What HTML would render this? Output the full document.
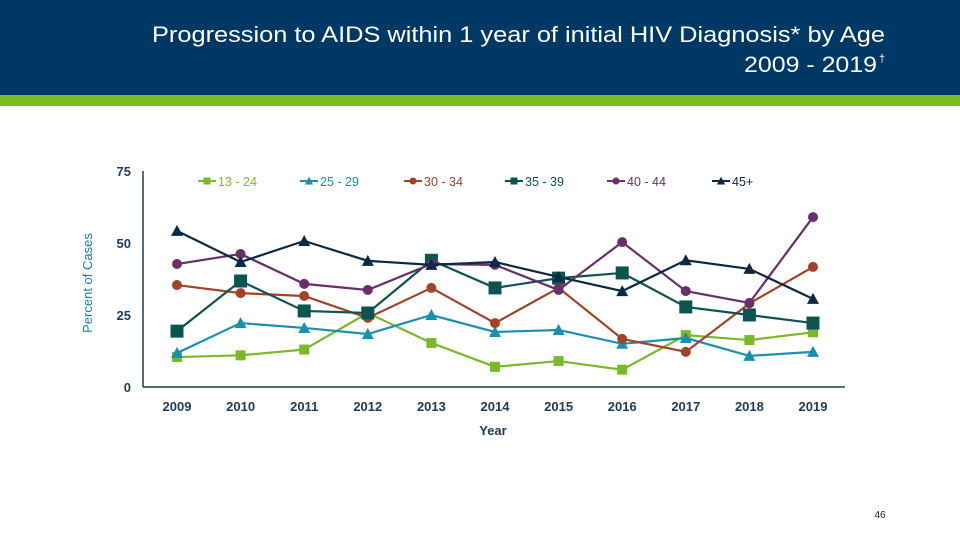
<!DOCTYPE html>
<html><head><meta charset="utf-8"><style>
body{margin:0;width:960px;height:540px;overflow:hidden;background:#fff;font-family:"Liberation Sans",sans-serif}
</style></head><body>
<svg id="s" width="960" height="540" xmlns="http://www.w3.org/2000/svg">
<rect x="0" y="0" width="960" height="95" fill="#003865"/>
<rect x="0" y="95" width="960" height="11" fill="#78be21"/>
<text x="885" y="42" text-anchor="end" font-size="22" fill="#fff" textLength="733" lengthAdjust="spacingAndGlyphs">Progression to AIDS within 1 year of initial HIV Diagnosis* by Age</text>
<text x="877" y="72" text-anchor="end" font-size="22" fill="#fff" textLength="133" lengthAdjust="spacingAndGlyphs">2009 - 2019</text>
<text x="879" y="62" font-size="11" fill="#fff">†</text>
<text x="880" y="518" text-anchor="middle" font-size="10" fill="#222">46</text>
<g id="chart"></g>
</svg>
<script>
const years=[2009,2010,2011,2012,2013,2014,2015,2016,2017,2018,2019];
const s1324=[10.4,11,13,25.7,15.3,7,9,6,18,16.3,19];
const s2529=[11.8,22.2,20.5,18.4,25,19.1,19.8,15,17,10.8,12.2];
const s3034=[35.4,32.6,31.6,24,34.4,22.2,34.4,16.7,12.2,29,41.7];
const s3539=[19.4,36.8,26.4,25.7,44,34.4,37.8,39.6,27.8,25,22.2];
const s4044=[42.7,46.2,35.8,33.7,42.7,42.4,33.7,50.3,33.3,29.2,59];
const s45=[54.2,43.4,50.7,43.8,42.4,43.4,38.2,33.3,44,41,30.6];
const yTicks=[0,25,50,75];
const seriesNames=["13 - 24","25 - 29","30 - 34","35 - 39","40 - 44","45+"];
const seriesData=[s1324,s2529,s3034,s3539,s4044,s45];
const colors=["#7ab929","#1a8fae","#a0432a","#0d5450","#6a2e68","#0c2a45"];
const markers=["square","triangle","circle","bigsquare","circle","triangle"];
const NS="http://www.w3.org/2000/svg";
const g=document.getElementById('chart');
const x0=177,x1=813,yb=387,yt=171;
const X=i=>x0+(x1-x0)*i/(years.length-1);
const Y=v=>yb-(yb-yt)*v/75;
function el(t,a,p){const e=document.createElementNS(NS,t);for(const k in a)e.setAttribute(k,a[k]);(p||g).appendChild(e);return e;}
let ax=el('line',{x1:143,y1:yb,x2:845,y2:yb,stroke:'#1f3b57','stroke-width':1.5});


let ay=el('line',{x1:143,y1:yt,x2:143,y2:yb,stroke:'#1f3b57','stroke-width':1.5});


yTicks.forEach(v=>{const t=el('text',{x:131,y:Y(v)+5,'text-anchor':'end','font-size':13,'font-weight':'bold',fill:'#1f3b57'});t.textContent=v;

});
years.forEach((yr,i)=>{const t=el('text',{x:X(i),y:411,'text-anchor':'middle','font-size':13,'font-weight':'bold',fill:'#1f3b57'});t.textContent=yr;

});
let xt=el('text',{x:493,y:435,'text-anchor':'middle','font-size':13,'font-weight':'bold',fill:'#1f3b57'});xt.textContent='Year';


let yl=el('text',{x:0,y:0,transform:'translate(92,283) rotate(-90)','text-anchor':'middle','font-size':13,fill:'#1a7fa6'});yl.textContent='Percent of Cases';


function marker(type,cx,cy,c,p){
 if(type==='square')return el('rect',{x:cx-5,y:cy-5,width:10,height:10,fill:c},p);
 if(type==='bigsquare')return el('rect',{x:cx-6.5,y:cy-6.5,width:13,height:13,fill:c},p);
 if(type==='circle')return el('circle',{cx:cx,cy:cy,r:5,fill:c},p);
 return el('polygon',{points:`${cx},${cy-6} ${cx-6},${cy+5} ${cx+6},${cy+5}`,fill:c},p);
}
seriesData.forEach((d,k)=>{
 const sg=el('g',{});
 
 
 el('polyline',{points:d.map((v,i)=>X(i)+','+Y(v)).join(' '),fill:'none',stroke:colors[k],'stroke-width':2.2},sg);
 d.forEach((v,i)=>{const m=marker(markers[k],X(i),Y(v),colors[k],sg);
 
 });
 const lx=[198,300,404,505,607,712][k];
 const lg=el('g',{});
 
 
 el('line',{x1:lx,y1:181,x2:lx+18,y2:181,stroke:colors[k],'stroke-width':2},lg);
 marker(markers[k]==='bigsquare'?'square':markers[k],lx+9,181,colors[k],lg).setAttribute('transform',`translate(${lx+9},181) scale(0.7) translate(${-(lx+9)},-181)`);
 const t=el('text',{x:lx+20,y:186,'font-size':12.5,fill:colors[k]==='#7ab929'?'#7ab929':colors[k]},lg);t.textContent=seriesNames[k];
});
</script>
</body></html>
